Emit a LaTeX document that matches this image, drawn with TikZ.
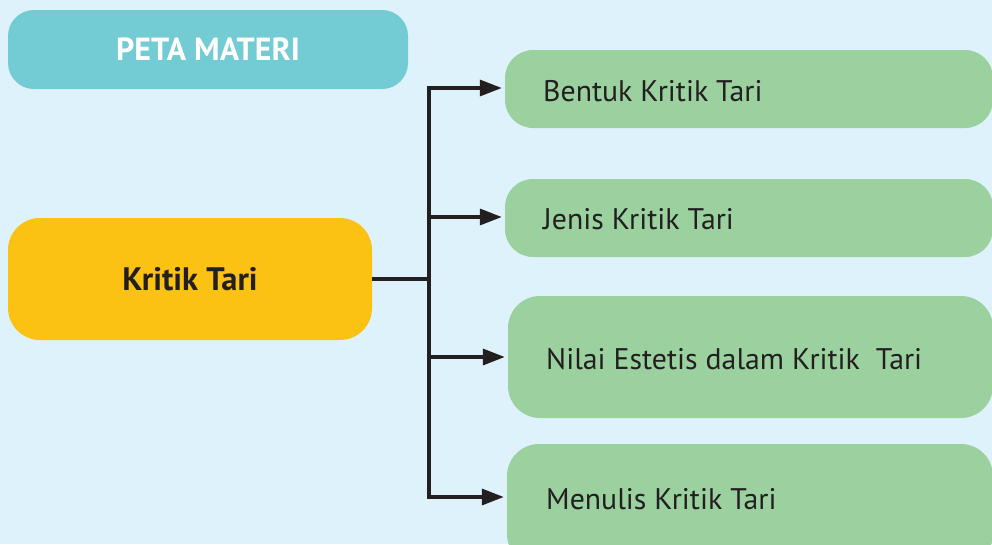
\documentclass[tikz,border=0pt]{standalone}
\usepackage{fontspec}
\setmainfont{PT Sans}
\usetikzlibrary{arrows.meta}
\definecolor{bgc}{HTML}{DEF2FB}
\definecolor{tealc}{HTML}{73CBD3}
\definecolor{yelc}{HTML}{FBC113}
\definecolor{grnc}{HTML}{9BD09F}
\definecolor{darkc}{HTML}{231F20}
\tikzset{
  box/.style={draw=none, rounded corners=28pt, inner sep=0pt},
  greenbox/.style={box, fill=grnc},
  lbl/.style={anchor=west, inner sep=0pt, text=darkc, font=\fontsize{29.8}{33}\selectfont},
  conn/.style={draw=darkc, line width=3.4pt},
  arr/.style={conn, -{Triangle[length=22pt,width=16pt]}, shorten >=3pt},
}
\begin{document}
\begin{tikzpicture}[x=1pt,y=-1pt]
\useasboundingbox (0,0) rectangle (992,544);
\clip (0,0) rectangle (992,544);
\fill[bgc] (0,0) rectangle (992,544);
\node[box, fill=tealc, minimum width=400pt, minimum height=79pt, rounded corners=26pt,
  text=white, font=\bfseries\fontsize{32}{36}\selectfont] (peta) at (208,49.5) {PETA MATERI};
\node[box, fill=yelc, minimum width=364pt, minimum height=122pt, rounded corners=32pt,
  text=darkc, font=\bfseries\fontsize{32.5}{36}\selectfont] (kritik) at (190,279) {Kritik Tari};
\node[greenbox, minimum width=488pt, minimum height=78pt] (b1) at (749,89) {};
\node[greenbox, minimum width=488pt, minimum height=78pt] (b2) at (749,218) {};
\node[greenbox, minimum width=485pt, minimum height=122pt, rounded corners=32pt] (b3) at (750.5,357) {};
\node[greenbox, minimum width=486pt, minimum height=122pt, rounded corners=32pt] (b4) at (750,505) {};
\node[lbl] (t1) at (543,91) {Bentuk Kritik Tari};
\node[lbl] (t2) at (543,219) {Jenis Kritik Tari};
\node[lbl] (t3) at (546,359) {Nilai Estetis dalam Kritik\ \ Tari};
\node[lbl] (t4) at (546,499) {Menulis Kritik Tari};
\coordinate (j) at (429,279);
\coordinate (c1) at (429,88);
\coordinate (c2) at (429,217);
\coordinate (c3) at (429,357);
\coordinate (c4) at (429,497);
\draw[conn] (kritik.east) -- (j);
\draw[conn, line cap=rect] (c1) -- (c4);
\draw[arr] (c1) -- (c1 -| b1.west);
\draw[arr] (c2) -- (c2 -| b2.west);
\draw[arr] (c3) -- (c3 -| b3.west);
\draw[arr] (c4) -- (c4 -| b4.west);
\end{tikzpicture}
\end{document}
